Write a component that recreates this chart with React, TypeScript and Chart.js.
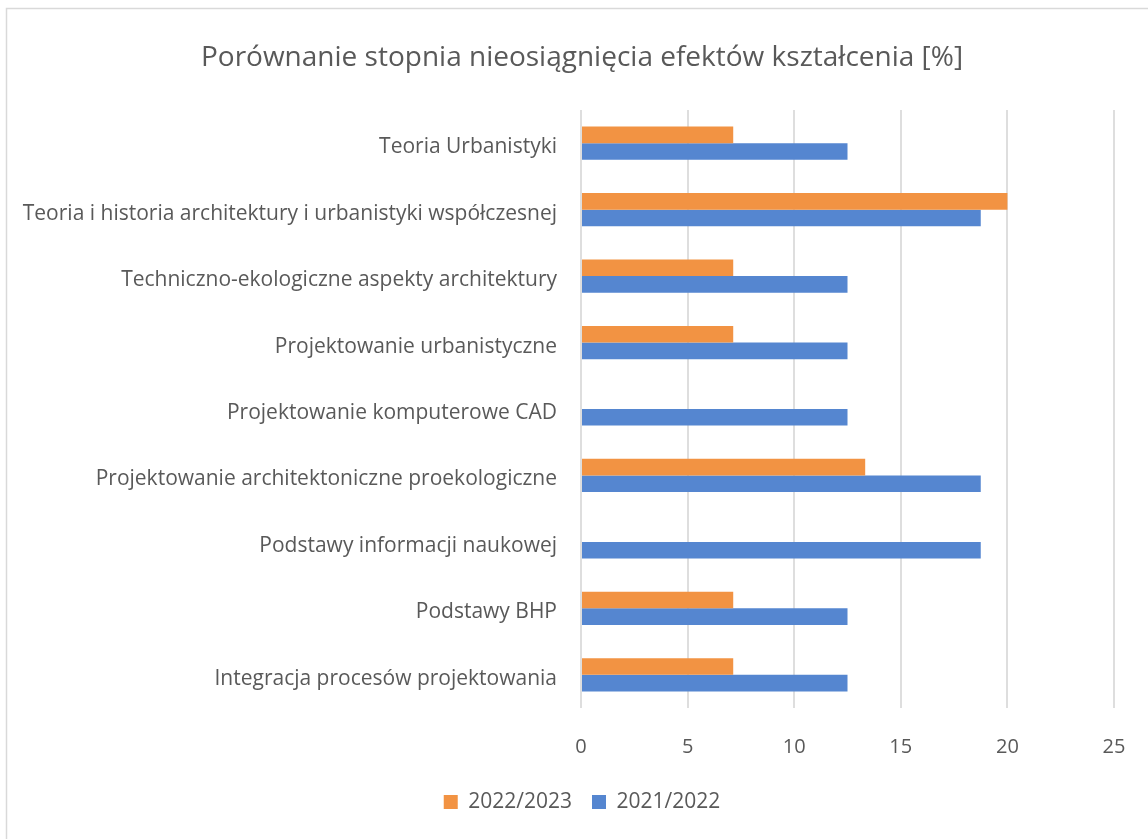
import React, { useEffect, useRef } from "react";
import { Chart, registerables } from "chart.js";

Chart.register(...registerables);

const categories = [
  "Teoria Urbanistyki",
  "Teoria i historia architektury i urbanistyki współczesnej",
  "Techniczno-ekologiczne aspekty architektury",
  "Projektowanie urbanistyczne",
  "Projektowanie komputerowe CAD",
  "Projektowanie architektoniczne proekologiczne",
  "Podstawy informacji naukowej",
  "Podstawy BHP",
  "Integracja procesów projektowania",
];
const series2022_2023 = [7.14, 20, 7.14, 7.14, 0, 13.33, 0, 7.14, 7.14];
const series2021_2022 = [12.5, 18.75, 12.5, 12.5, 12.5, 18.75, 18.75, 12.5, 12.5];
const seriesLabels = ["2022/2023", "2021/2022"];
const titleText = "Porównanie stopnia nieosiągnięcia efektów kształcenia [%]";

const FONT = "'Open Sans', 'Noto Sans', sans-serif";
const TEXT = "#595959";

export default function App() {
  const ref = useRef<HTMLCanvasElement>(null);

  useEffect(() => {
    if (!ref.current) return;
    const borderPlugin = {
      id: "outerBorder",
      afterLayout(chart: any) {
        // let the long category labels use the full left margin
        if (chart.scales.y) chart.scales.y.left = 0;
      },
      beforeDraw(chart: any) {
        const ctx = chart.ctx;
        ctx.save();
        ctx.fillStyle = "#ffffff";
        ctx.fillRect(0, 0, chart.width, chart.height);
        ctx.strokeStyle = "#d9d9d9";
        ctx.lineWidth = 1.5;
        ctx.beginPath();
        ctx.moveTo(6.5, chart.height + 5);
        ctx.lineTo(6.5, 8.5);
        ctx.lineTo(chart.width + 5, 8.5);
        ctx.stroke();
        ctx.restore();
      },
    };
    const chart = new Chart(ref.current, {
      type: "bar",
      data: {
        labels: categories,
        datasets: [
          {
            label: seriesLabels[0],
            data: series2022_2023,
            backgroundColor: "#F29343",
            borderWidth: 0,
          },
          {
            label: seriesLabels[1],
            data: series2021_2022,
            backgroundColor: "#5586D0",
            borderWidth: 0,
          },
        ],
      },
      options: {
        indexAxis: "y",
        animation: false,
        responsive: false,
        devicePixelRatio: 1,
        datasets: { bar: { barPercentage: 1, categoryPercentage: 0.5 } },
        layout: { padding: { left: 50, right: 34, top: 0, bottom: 16.5 } },
        plugins: {
          title: {
            display: true,
            text: titleText,
            color: TEXT,
            font: { family: FONT, size: 28, weight: "normal", lineHeight: 1.2 },
            padding: { top: 41, bottom: 35.4 },
          },
          legend: {
            display: true,
            position: "bottom",
            labels: {
              color: TEXT,
              font: { family: FONT, size: 21 },
              boxWidth: 14,
              boxHeight: 14,
              padding: 20,
            },
          },
          tooltip: { enabled: false },
        },
        scales: {
          x: {
            min: 0,
            max: 25,
            ticks: {
              stepSize: 5,
              color: TEXT,
              font: { family: FONT, size: 20 },
              padding: 15,
            },
            grid: {
              color: "#dedede",
              lineWidth: 2,
              drawTicks: true,
              tickLength: 12,
              tickColor: "rgba(0,0,0,0)",
            },
            border: { display: false },
            afterFit(scale: any) {
              scale.height = 63.5;
            },
          },
          y: {
            ticks: {
              color: TEXT,
              font: { family: FONT, size: 21 },
              padding: 24,
              autoSkip: false,
              labelOffset: 4,
            },
            grid: { display: false, drawTicks: false },
            border: { display: false },
            afterFit(scale: any) {
              scale.width = 531;
            },
          },
        },
      },
      plugins: [borderPlugin],
    } as any);
    return () => chart.destroy();
  }, []);

  return (
    <div style={{ position: "fixed", left: 0, top: 0, width: 1148, height: 839 }}>
      <canvas ref={ref} width={1148} height={839} style={{ display: "block" }} />
    </div>
  );
}
